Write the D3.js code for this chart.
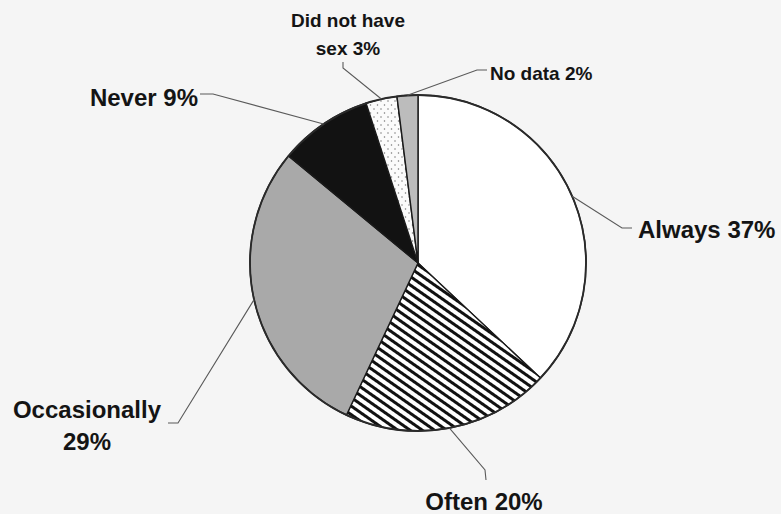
<!DOCTYPE html>
<html>
<head>
<meta charset="utf-8">
<script src="https://cdn.jsdelivr.net/npm/d3@7"></script>
<style>
  html, body { margin: 0; padding: 0; background: #f5f5f5; }
  svg { display: block; }
  text { font-family: "Liberation Sans", Arial, sans-serif; font-weight: bold; fill: #141414; }
</style>
</head>
<body>
<svg id="chart" width="781" height="514"></svg>
<script>
// Condom use responses (percent of respondents)
const categories = ["Always", "Often", "Occasionally", "Never", "Did not have sex", "No data"];
const values = [37, 20, 29, 9, 3, 2];
const labelLines = [
  ["Always 37%"],
  ["Often 20%"],
  ["Occasionally", "29%"],
  ["Never 9%"],
  ["Did not have", "sex 3%"],
  ["No data 2%"]
];

// Label placement: text anchor, baseline of first line, line gap, font size,
// and the leader path from the rim out to the label (elbow, end).
const labelLayout = [
  { x: 638, y: 238, anchor: "start",  size: 24, gap: 0,  elbow: [622, 228], end: [632, 228] },
  { x: 484, y: 510, anchor: "middle", size: 24, gap: 0,  elbow: [485, 470], end: [486, 480] },
  { x: 87,  y: 418, anchor: "middle", size: 24, gap: 32, elbow: [178, 423], end: [168, 423] },
  { x: 198, y: 106, anchor: "end",    size: 24, gap: 0,  elbow: [213, 94],  end: [200, 94] },
  { x: 348, y: 27,  anchor: "middle", size: 19, gap: 28, elbow: [343, 68],  end: [343, 62] },
  { x: 490, y: 80,  anchor: "start",  size: 19, gap: 0,  elbow: [477, 70],  end: [487, 70] }
];

const fills = ["#ffffff", "url(#stripes)", "#a9a9a9", "#121212", "url(#dots)", "#bcbcbc"];

const svg = d3.select("#chart");
const cx = 418, cy = 263, radius = 168;

// Patterns for the hatched and dotted slices
const defs = svg.append("defs");
const stripes = defs.append("pattern")
  .attr("id", "stripes")
  .attr("patternUnits", "userSpaceOnUse")
  .attr("width", 7).attr("height", 7)
  .attr("patternTransform", "rotate(35)");
stripes.append("rect").attr("width", 7).attr("height", 7).attr("fill", "#ffffff");
stripes.append("rect").attr("x", 0).attr("y", 0).attr("width", 7).attr("height", 3).attr("fill", "#111");

const dots = defs.append("pattern")
  .attr("id", "dots")
  .attr("patternUnits", "userSpaceOnUse")
  .attr("width", 7).attr("height", 8);
dots.append("rect").attr("width", 7).attr("height", 8).attr("fill", "#fbfbfb");
dots.append("circle").attr("cx", 1.5).attr("cy", 2).attr("r", 0.75).attr("fill", "#777");
dots.append("circle").attr("cx", 5).attr("cy", 6).attr("r", 0.75).attr("fill", "#777");

const pie = d3.pie().sort(null).value(d => d)
  .startAngle(0).endAngle(2 * Math.PI);
const arcs = pie(values);

const arc = d3.arc().innerRadius(0).outerRadius(radius);
const rim = d3.arc().innerRadius(radius).outerRadius(radius);

const g = svg.append("g").attr("transform", `translate(${cx},${cy})`);

g.selectAll("path.slice")
  .data(arcs)
  .join("path")
  .attr("class", "slice")
  .attr("d", arc)
  .attr("fill", (d, i) => fills[i])
  .attr("stroke", "#1a1a1a")
  .attr("stroke-width", 1.4)
  .attr("stroke-linejoin", "round");

// Outer rim
g.append("circle")
  .attr("r", radius)
  .attr("fill", "none")
  .attr("stroke", "#2a2a2a")
  .attr("stroke-width", 1.8);

// Leader lines from each slice's rim midpoint
const line = d3.line();
svg.selectAll("path.leader")
  .data(arcs)
  .join("path")
  .attr("class", "leader")
  .attr("d", (d, i) => {
    const [px, py] = rim.centroid(d);
    const L = labelLayout[i];
    return line([[cx + px, cy + py], L.elbow, L.end]);
  })
  .attr("fill", "none")
  .attr("stroke", "#5a5a5a")
  .attr("stroke-width", 1.1);

// Labels
const labels = svg.selectAll("text.label")
  .data(categories)
  .join("text")
  .attr("class", "label")
  .attr("text-anchor", (d, i) => labelLayout[i].anchor)
  .attr("font-size", (d, i) => labelLayout[i].size);

labels.each(function (d, i) {
  const L = labelLayout[i];
  d3.select(this).selectAll("tspan")
    .data(labelLines[i])
    .join("tspan")
    .attr("x", L.x)
    .attr("y", (t, j) => L.y + j * L.gap)
    .text(t => t);
});
</script>
</body>
</html>
